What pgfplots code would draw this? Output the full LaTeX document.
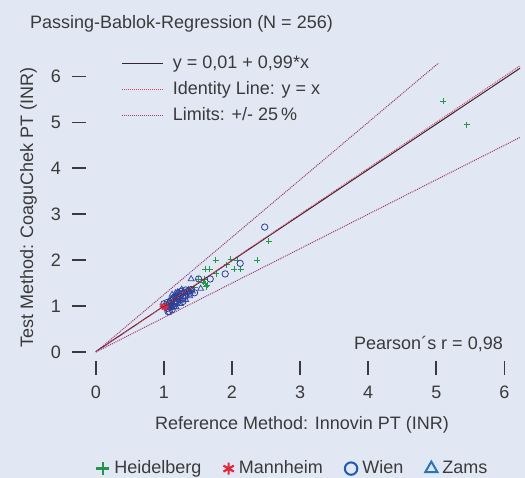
\documentclass[border=0pt]{standalone}
\usepackage{pgfplots}
\pgfplotsset{compat=1.18}
\usepackage{fontspec}
\setmainfont{Liberation Sans}

\definecolor{bg}{HTML}{E1E8F4}
\definecolor{txt}{HTML}{3A3A3A}
\definecolor{hdgreen}{HTML}{23964A}
\definecolor{mared}{HTML}{E2263C}
\definecolor{wiblue}{HTML}{2E3F96}
\definecolor{zablue}{HTML}{3A4CA4}
\definecolor{wilegend}{HTML}{1F5AAE}
\definecolor{zalegend}{HTML}{2A74BC}
\definecolor{regline}{HTML}{3A2430}
\definecolor{idline}{HTML}{D8405E}
\definecolor{limline}{HTML}{9A3C70}

\newcommand\bigfont{\fontsize{18}{21}\selectfont}

\begin{document}
\begin{tikzpicture}[font=\bigfont, text=txt]
\fill[bg] (0,0) rectangle (525pt,478pt);
\useasboundingbox (0,0) rectangle (525pt,478pt);

\pgfplotsset{
  base/.style={
    at={(72pt,103pt)}, anchor=south west,
    scale only axis, width=448pt, height=311pt,
    xmin=-0.35, xmax=6.23, ymin=-0.5, ymax=6.27,
  }
}

% scatter points, site legend at the bottom
\begin{axis}[base, hide axis,
  legend columns=4,
  legend style={at={(0.054,-0.273)}, anchor=north west, draw=none, fill=none,
    inner sep=0pt, column sep=5pt,
    /tikz/every even column/.append style={column sep=22pt},
    nodes={inner sep=0pt, text height=13pt, text depth=4pt, text=txt}},
  legend image code/.code={\draw[#1] plot coordinates {(6pt,0pt)};},
]
\addplot[only marks, mark=+, mark size=3pt, line width=0.9pt, hdgreen, forget plot] coordinates {
(5.10,5.46) (5.45,4.95) (2.54,2.41) (2.37,2.00) (1.76,2.00) (1.98,2.02)
(2.08,2.00) (1.92,1.90) (2.13,1.80) (2.03,1.80) (1.61,1.80) (1.67,1.80)
(1.77,1.70) (1.60,1.59) (1.51,1.59) (1.61,1.49) (1.64,1.46) (1.58,1.52)
(1.62,1.42) (1.45,1.40) (1.38,1.35) (1.30,1.28) (1.20,1.22)
};
\addplot[only marks, mark=triangle, mark size=3.4pt, line width=0.8pt, zablue, forget plot] coordinates {
(1.05,1.02) (1.08,1.10) (1.10,1.05) (1.12,1.15) (1.15,1.22) (1.18,1.08)
(1.20,1.18) (1.22,1.25) (1.25,1.12) (1.28,1.30) (1.30,1.20) (1.33,1.28)
(1.36,1.35) (1.15,0.98) (1.12,1.25) (1.20,1.30) (1.26,1.36) (1.18,1.15)
(1.24,1.05) (1.32,1.14) (1.10,1.00) (1.06,0.96) (1.17,1.28) (1.40,1.59)
(1.54,1.38) (1.38,1.22) (1.42,1.32) (1.18,0.98) (1.09,0.98)
};
\addplot[only marks, mark=o, mark size=3.2pt, line width=0.8pt, wiblue, forget plot] coordinates {
(2.48,2.72) (2.12,1.93) (1.90,1.70) (1.68,1.59) (1.51,1.59) (1.45,1.29)
(1.06,0.88) (1.02,1.00) (1.05,0.95) (1.08,1.05) (1.10,1.12) (1.12,1.02)
(1.15,1.10) (1.18,1.20) (1.20,1.08) (1.22,1.15) (1.25,1.25) (1.28,1.18)
(1.30,1.30) (1.32,1.22) (1.35,1.32) (1.38,1.28) (1.12,0.92) (1.08,0.88)
(1.15,1.00) (1.05,1.08) (1.18,1.12) (1.25,1.32) (1.40,1.36) (1.22,1.28)
(1.10,0.98) (1.14,1.18) (1.28,1.10) (1.20,1.22) (1.16,1.05) (1.32,1.35)
(1.00,1.05)
};
\addplot[only marks, mark=asterisk, mark size=2.6pt, line width=0.8pt, mared, forget plot] coordinates {
(0.98,0.98) (1.00,0.95) (1.03,1.02) (0.97,1.01) (1.04,0.97)
};
\addlegendimage{only marks, mark=+, mark size=6.5pt, line width=2.6pt, hdgreen}
\addlegendentry{Heidelberg}
\addlegendimage{only marks, mark=asterisk, mark size=6pt, line width=2.2pt, mared}
\addlegendentry{Mannheim}
\addlegendimage{only marks, mark=o, mark size=6.2pt, line width=2pt, wilegend}
\addlegendentry{Wien}
\addlegendimage{only marks, mark=triangle, mark size=7pt, line width=2pt, zalegend}
\addlegendentry{Zams}
\end{axis}

% regression, identity and limit lines with the ticks
\begin{axis}[base,
  separate axis lines, axis line style={draw=none},
  tick pos=left,
  xtick={0,...,6}, ytick={0,...,6},
  tick align=inside, major tick length=14pt,
  tick style={line width=1.6pt, color=txt},
  xticklabel style={inner sep=0pt, yshift=-10.5pt},
  yticklabel style={inner sep=0pt, xshift=-11pt},
  /pgf/number format/assume math mode=true,
  legend cell align=left,
  legend style={at={(0.111,1.028)}, anchor=north west, draw=none, fill=none,
    inner sep=0pt, column sep=9pt, row sep=9pt,
    nodes={inner sep=0pt, text height=13pt, text depth=4pt, text=txt}},
  legend image code/.code={\draw[#1] (0pt,0pt) -- (41pt,0pt);},
]
\addplot[regline, line width=1pt] coordinates {(0,0.01) (6.3,6.247)};
\addlegendentry{y = 0,01 + 0,99*x}
\addplot[idline, line width=1pt, dash pattern=on 1pt off 1pt] coordinates {(0,0) (6.3,6.3)};
\addlegendentry{Identity Line: y = x}
\addplot[limline, line width=1pt, dash pattern=on 1pt off 1pt] coordinates {(0,0) (5.1,6.375)};
\addlegendentry{Limits: +/- 25\,\%}
\addplot[limline, line width=1pt, dash pattern=on 1pt off 1pt, forget plot] coordinates {(0,0) (6.3,4.725)};
\end{axis}

\node[anchor=base west, inner sep=0pt] at (30pt,449.7pt) {Passing-Bablok-Regression (N = 256)};
\node[anchor=base east, inner sep=0pt] at (503pt,128pt) {Pearson´s r = 0,98};
\node[anchor=base, inner sep=0pt] at (302pt,48pt) {Reference Method: Innovin PT (INR)};
\node[anchor=base, inner sep=0pt, rotate=90] at (33pt,270.5pt) {Test Method: CoaguChek PT (INR)};
\end{tikzpicture}
\end{document}
